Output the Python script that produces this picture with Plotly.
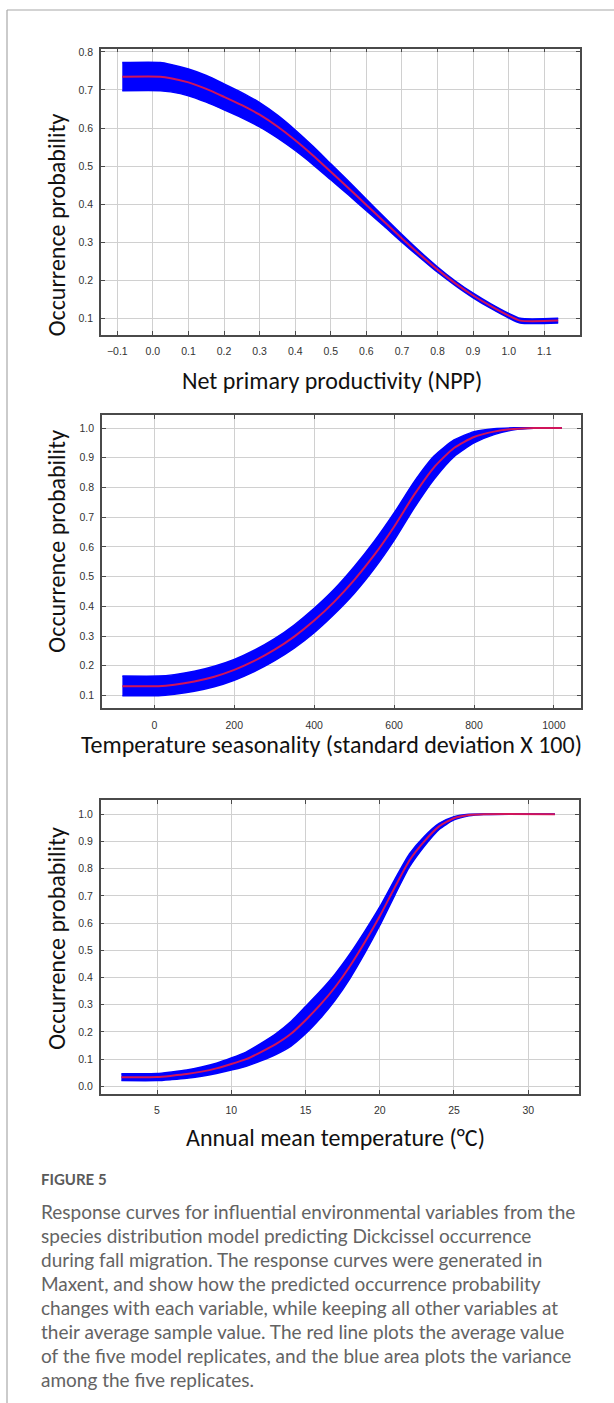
import plotly.graph_objects as go

W, H = 614, 1403

# ---------------- data ----------------
# Panel 1: Net primary productivity
npp_x = [-0.086, 0.021, 0.05, 0.10, 0.15, 0.20, 0.25, 0.30, 0.35, 0.40, 0.45, 0.50,
         0.55, 0.60, 0.65, 0.70, 0.75, 0.80, 0.85, 0.90, 0.95, 1.00, 1.032, 1.139]
npp_mean = [0.735, 0.735, 0.731, 0.720, 0.703, 0.682, 0.660, 0.635, 0.604, 0.568, 0.528, 0.485,
            0.442, 0.398, 0.354, 0.310, 0.268, 0.228, 0.192, 0.160, 0.132, 0.107, 0.094, 0.094]
npp_lo = [0.698, 0.698, 0.695, 0.685, 0.668, 0.648, 0.627, 0.603, 0.574, 0.541, 0.504, 0.464,
          0.424, 0.383, 0.342, 0.300, 0.260, 0.221, 0.186, 0.154, 0.126, 0.101, 0.088, 0.088]
npp_hi = [0.772, 0.772, 0.767, 0.755, 0.738, 0.716, 0.693, 0.667, 0.634, 0.595, 0.552, 0.506,
          0.460, 0.413, 0.366, 0.320, 0.276, 0.235, 0.198, 0.166, 0.138, 0.113, 0.100, 0.100]

# Panel 2: Temperature seasonality
ts_x = [-80, 10, 50, 100, 150, 200, 250, 300, 350, 400, 450, 500, 550, 600, 650,
        700, 750, 800, 850, 900, 950, 1020]
ts_mean = [0.131, 0.131, 0.136, 0.147, 0.163, 0.186, 0.216, 0.253, 0.298, 0.352, 0.415, 0.488,
           0.572, 0.668, 0.775, 0.868, 0.933, 0.970, 0.988, 0.997, 1.000, 1.000]
ts_lo = [0.099, 0.099, 0.104, 0.114, 0.129, 0.151, 0.180, 0.216, 0.259, 0.311, 0.373, 0.443,
         0.526, 0.622, 0.731, 0.828, 0.904, 0.950, 0.978, 0.994, 0.999, 1.000]
ts_hi = [0.165, 0.165, 0.170, 0.181, 0.198, 0.221, 0.252, 0.290, 0.337, 0.393, 0.457, 0.533,
         0.618, 0.714, 0.819, 0.906, 0.960, 0.988, 0.998, 1.001, 1.001, 1.000]

# Panel 3: Annual mean temperature
amt_x = [2.6, 5.0, 6, 7, 8, 9, 10, 11, 12, 13, 14, 15, 16, 17, 18, 19, 20, 21, 22,
         23, 24, 25, 26, 27, 31.8]
amt_mean = [0.033, 0.034, 0.039, 0.045, 0.054, 0.066, 0.082, 0.100, 0.126, 0.155, 0.192, 0.243,
            0.300, 0.365, 0.442, 0.530, 0.625, 0.730, 0.830, 0.900, 0.955, 0.985, 0.997, 1.000, 1.000]
amt_lo = [0.021, 0.021, 0.025, 0.030, 0.037, 0.047, 0.060, 0.074, 0.094, 0.117, 0.147, 0.193,
          0.250, 0.317, 0.397, 0.490, 0.591, 0.701, 0.806, 0.882, 0.944, 0.979, 0.994, 0.999, 1.000]
amt_hi = [0.046, 0.047, 0.053, 0.060, 0.071, 0.085, 0.104, 0.126, 0.158, 0.193, 0.237, 0.293,
          0.350, 0.413, 0.487, 0.570, 0.659, 0.759, 0.854, 0.918, 0.966, 0.991, 1.000, 1.001, 1.000]

npp_ticks = [-0.1, 0.0, 0.1, 0.2, 0.3, 0.4, 0.5, 0.6, 0.7, 0.8, 0.9, 1.0, 1.1]
npp_yticks = [0.1, 0.2, 0.3, 0.4, 0.5, 0.6, 0.7, 0.8]
ts_ticks = [0, 200, 400, 600, 800, 1000]
ts_yticks = [0.1, 0.2, 0.3, 0.4, 0.5, 0.6, 0.7, 0.8, 0.9, 1.0]
amt_ticks = [5, 10, 15, 20, 25, 30]
amt_yticks = [0.0, 0.1, 0.2, 0.3, 0.4, 0.5, 0.6, 0.7, 0.8, 0.9, 1.0]

x_titles = ["Net primary productivity (NPP)",
            "Temperature seasonality (standard deviation X 100)",
            "Annual mean temperature (°C)"]
y_title = "Occurrence probability"

caption_head = "FIGURE 5"
caption_lines = [
    "Response curves for influential environmental variables from the",
    "species distribution model predicting Dickcissel occurrence",
    "during fall migration. The response curves were generated in",
    "Maxent, and show how the predicted occurrence probability",
    "changes with each variable, while keeping all other variables at",
    "their average sample value. The red line plots the average value",
    "of the five model replicates, and the blue area plots the variance",
    "among the five replicates.",
]

# ---------------- layout helpers ----------------
BLUE = "#0000ff"
RED = "#d0145a"

panels = [
    dict(xd=(101, 580), yd=(45.7, 332.3), xr=(-0.1458, 1.2003), yr=(0.0573, 0.8087),
         xt=npp_ticks, yt=npp_yticks, xfmt=".1f", yfmt=".1f",
         data=(npp_x, npp_mean, npp_lo, npp_hi)),
    dict(xd=(102, 580.7), yd=(413.3, 707), xr=(-131, 1067), yr=(0.056, 1.0426),
         xt=ts_ticks, yt=ts_yticks, xfmt="d", yfmt=".1f",
         data=(ts_x, ts_mean, ts_lo, ts_hi)),
    dict(xd=(100.6, 578.7), yd=(799, 1093.3), xr=(1.2, 33.4), yr=(-0.028, 1.051),
         xt=amt_ticks, yt=amt_yticks, xfmt="d", yfmt=".1f",
         data=(amt_x, amt_mean, amt_lo, amt_hi)),
]

fig = go.Figure()

tickfont = dict(family="Liberation Sans Narrow, Arial Narrow, Liberation Sans, Arial", size=10.5, color="#333333")
axis_common = dict(showline=True, linecolor="#4a4a4a", linewidth=1.5, mirror="ticks",
                   ticks="inside", ticklen=4, tickwidth=1.2, tickcolor="#4a4a4a",
                   showgrid=True, gridcolor="#d0d0d0", gridwidth=1.2, zeroline=False,
                   tickfont=tickfont)

for i, p in enumerate(panels, start=1):
    xs, mean, lo, hi = p["data"]
    xa = "x" if i == 1 else f"x{i}"
    ya = "y" if i == 1 else f"y{i}"
    fig.add_trace(go.Scatter(x=xs, y=lo, mode="lines",
                             line=dict(color=BLUE, width=1.5, shape="spline", smoothing=0.6),
                             xaxis=xa, yaxis=ya, hoverinfo="skip"))
    fig.add_trace(go.Scatter(x=xs, y=hi, mode="lines",
                             line=dict(color=BLUE, width=1.5, shape="spline", smoothing=0.6),
                             fill="tonexty", fillcolor=BLUE, xaxis=xa, yaxis=ya, hoverinfo="skip"))
    fig.add_trace(go.Scatter(x=xs, y=mean, mode="lines",
                             line=dict(color=RED, width=2, shape="spline", smoothing=0.6),
                             xaxis=xa, yaxis=ya))
    xkey = "xaxis" if i == 1 else f"xaxis{i}"
    ykey = "yaxis" if i == 1 else f"yaxis{i}"
    fig.update_layout({
        xkey: dict(domain=[p["xd"][0] / W, p["xd"][1] / W], range=list(p["xr"]),
                   anchor=ya, tickvals=p["xt"], tickformat=p["xfmt"], ticklabelstandoff=6,
                   **axis_common),
        ykey: dict(domain=[1 - p["yd"][1] / H, 1 - p["yd"][0] / H], range=list(p["yr"]),
                   anchor=xa, tickvals=p["yt"], tickformat=p["yfmt"], ticklabelstandoff=4,
                   **axis_common),
    })

annotations = []
title_font = dict(family="Carlito, Lato, Liberation Sans", size=24, color="#111111")
for ycen in [222, 539, 937]:
    annotations.append(dict(text=y_title, x=56.8 / W, y=1 - ycen / H, xref="paper", yref="paper",
                            xanchor="center", yanchor="middle", textangle=-90, showarrow=False,
                            font=title_font))
for txt, xc, yc in zip(x_titles, [332, 331, 335], [378, 743, 1137]):
    annotations.append(dict(text=txt, x=xc / W, y=1 - yc / H, xref="paper", yref="paper",
                            xanchor="center", yanchor="middle", showarrow=False, font=title_font))

annotations.append(dict(text="<b>" + caption_head + "</b>", x=39 / W, y=1 - 1179 / H,
                        xref="paper", yref="paper", xanchor="left", yanchor="middle",
                        showarrow=False, font=dict(family="Lato, Open Sans", size=15, color="#5a5a5a")))
for k, line in enumerate(caption_lines):
    annotations.append(dict(text=line, x=39 / W, y=1 - (1211 + 24 * k) / H,
                            xref="paper", yref="paper", xanchor="left", yanchor="middle",
                            showarrow=False,
                            font=dict(family="Lato, Open Sans", size=19, color="#636363")))

shapes = [
    dict(type="line", xref="paper", yref="paper", x0=7 / W, x1=1, y0=1 - 7 / H, y1=1 - 7 / H,
         line=dict(color="#a8a8a8", width=1.2)),
    dict(type="line", xref="paper", yref="paper", x0=7 / W, x1=7 / W, y0=0, y1=1 - 7 / H,
         line=dict(color="#a8a8a8", width=1.2)),
]

fig.update_layout(width=W, height=H, margin=dict(l=0, r=0, t=0, b=0),
                  paper_bgcolor="white", plot_bgcolor="white", showlegend=False,
                  annotations=annotations, shapes=shapes)

fig.write_html("out.html", config={"displayModeBar": False},
               post_script="document.body.style.margin='0px';")
